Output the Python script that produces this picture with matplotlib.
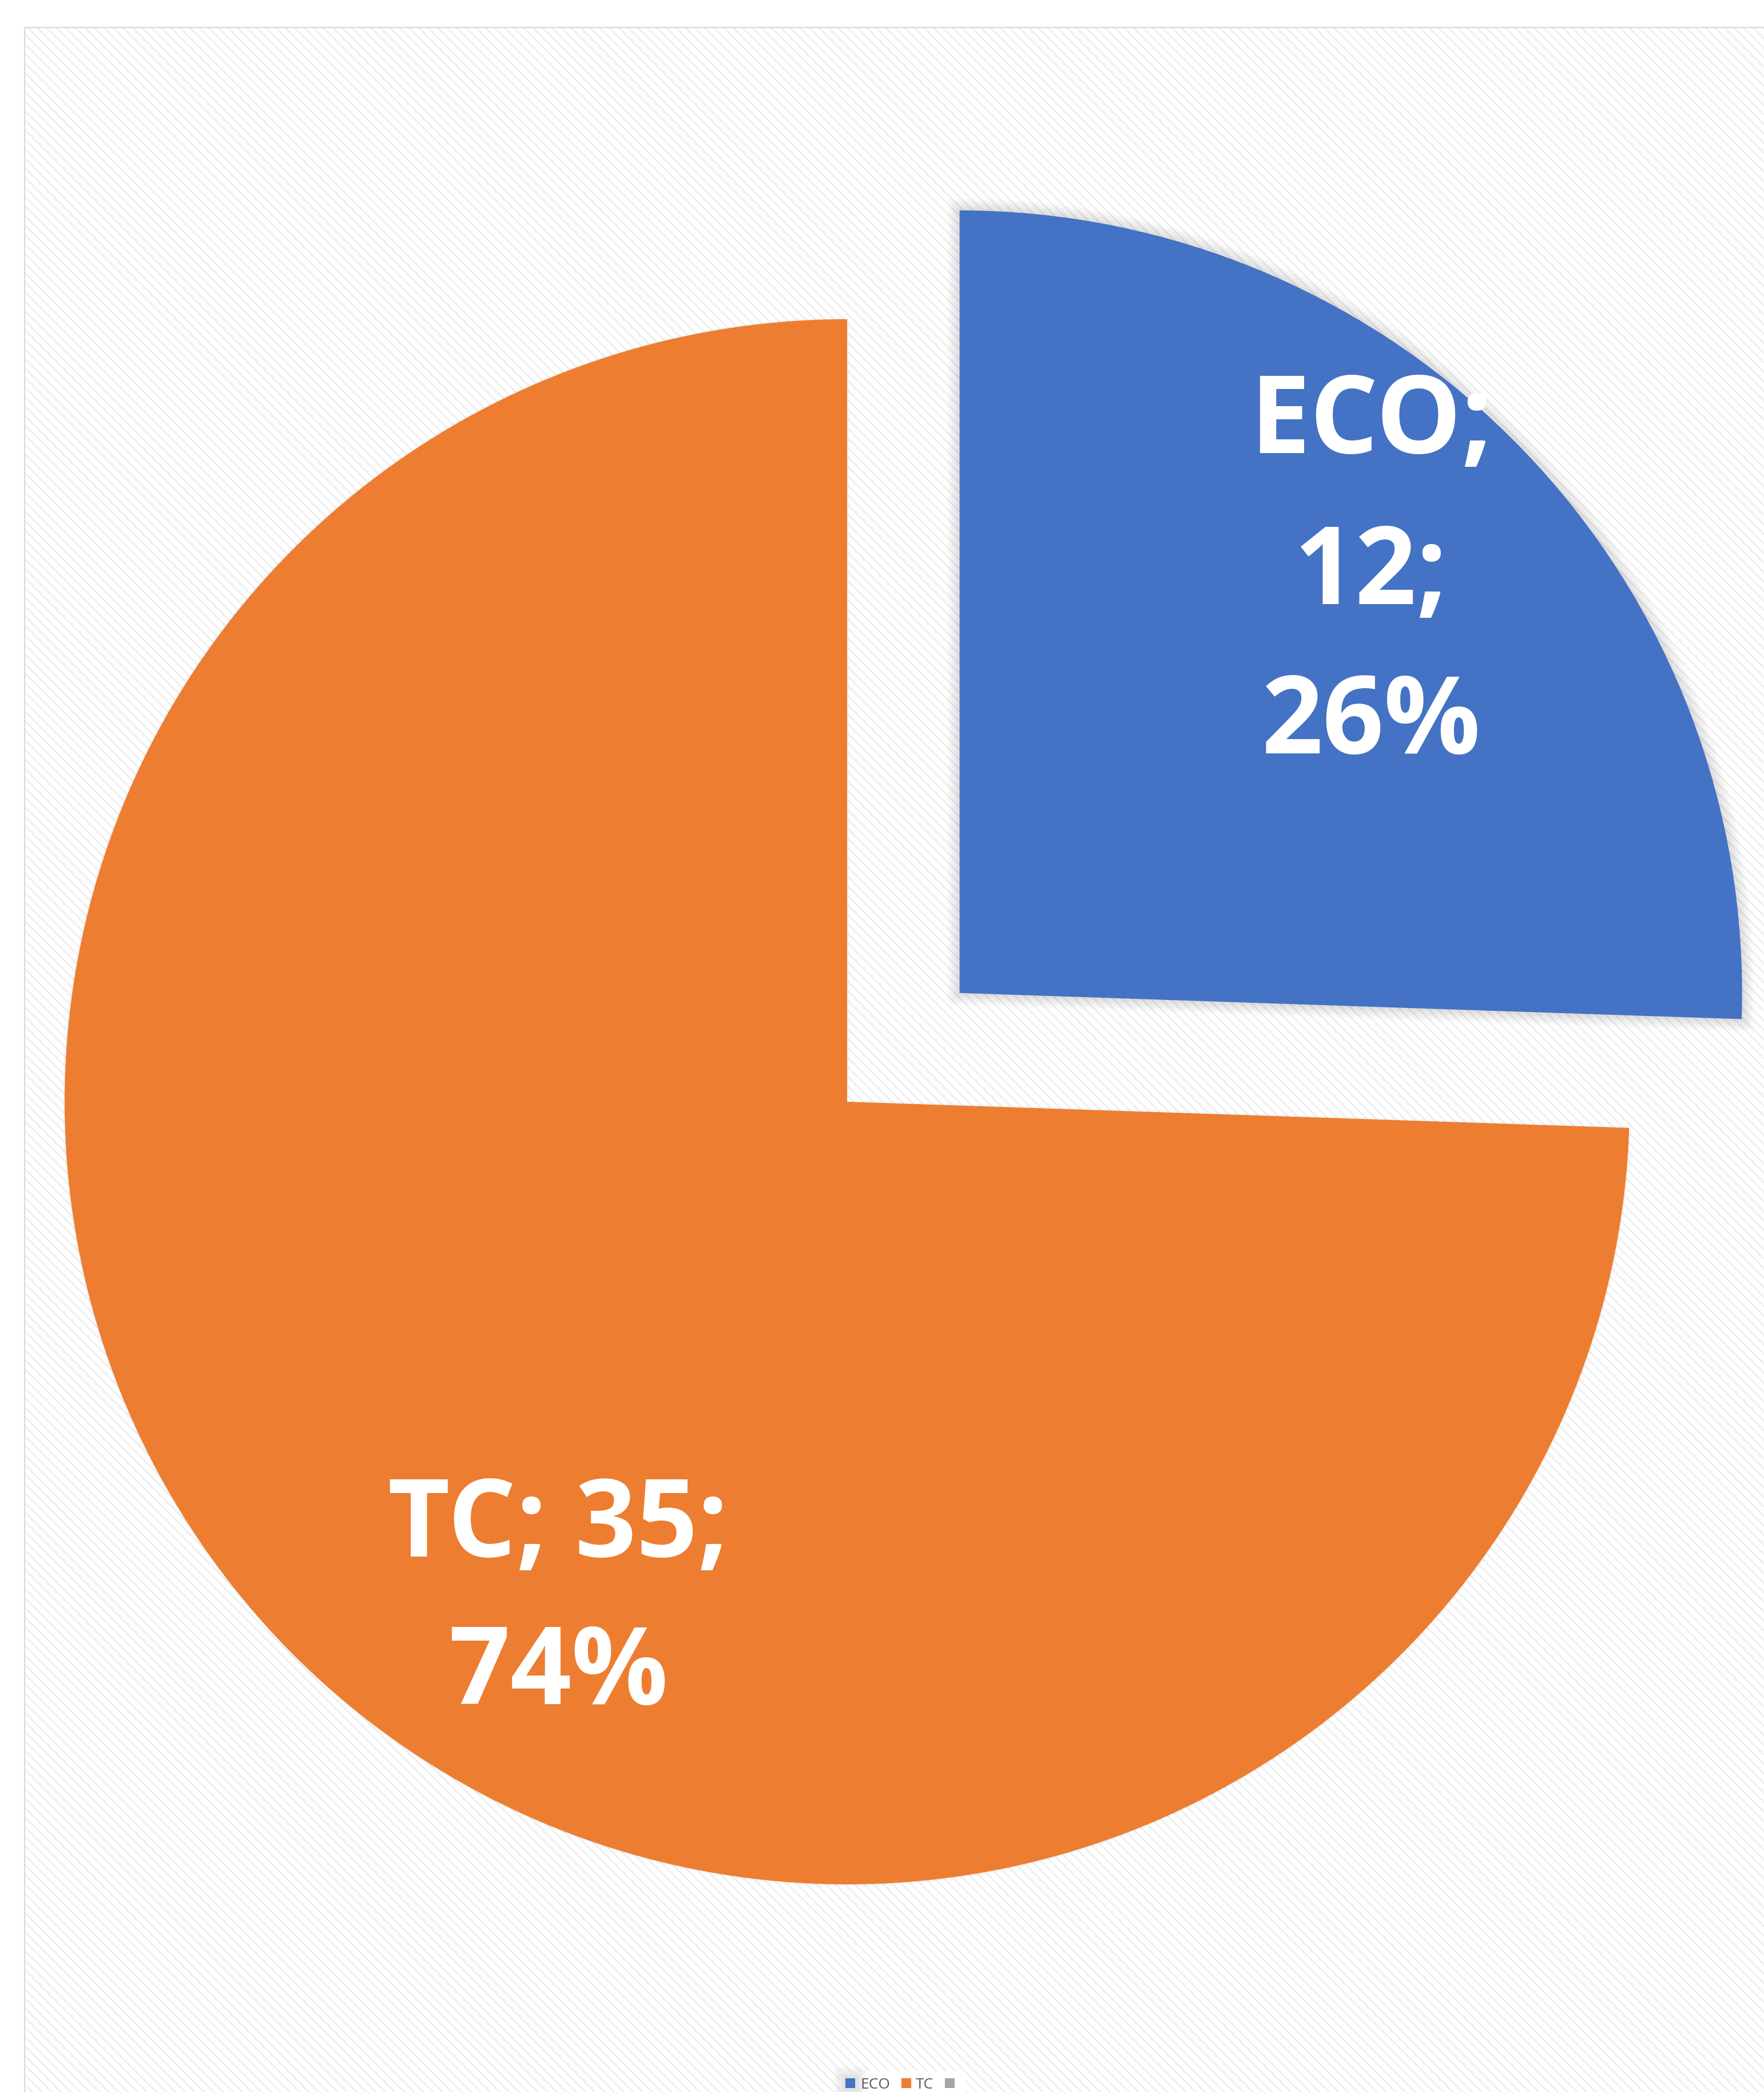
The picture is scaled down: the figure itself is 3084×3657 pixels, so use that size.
import matplotlib
matplotlib.use("Agg")
import matplotlib.pyplot as plt
from matplotlib.patches import Rectangle
import matplotlib.patheffects as pe

# ---- data ----
categories = ["ECO", "TC", ""]
values = [12, 35, 0]
colors = ["#4472C4", "#ED7D31", "#A5A5A5"]
explode = [0.2, 0.0, 0.0]

plt.rcParams["hatch.linewidth"] = 2.2
plt.rcParams["font.family"] = ["Open Sans", "DejaVu Sans"]

W, H, DPI = 3084, 3657, 100
fig = plt.figure(figsize=(W / DPI, H / DPI), dpi=DPI)
fig.patch.set_facecolor("white")

# chart area background (striped) and border
x0 = 43 / W
ytop = 1 - 48 / H
bg = Rectangle((x0, -0.02), 1.0, ytop + 0.02, transform=fig.transFigure,
               facecolor="white", edgecolor="#efefef", hatch="\\\\", linewidth=0,
               zorder=-3)
fig.patches.append(bg)
border = Rectangle((x0, -0.02), 1.0, ytop + 0.02, transform=fig.transFigure,
                   facecolor="none", edgecolor="#d9d9d9", linewidth=1.5, zorder=-2)
fig.patches.append(border)

# pie axes: center at pixel (1481, 1926), radius 1368 px
cx, cy, R = 1481, 1926, 1368
ax = fig.add_axes([0, 0, 1, 1])
ax.set_zorder(1)
ax.set_facecolor("none")
wedges, _ = ax.pie(values, colors=colors, startangle=90, counterclock=False,
                   explode=explode, radius=1, center=(0, 0),
                   wedgeprops=dict(linewidth=0))
ax.set_xlim(-cx / R, (W - cx) / R)
ax.set_ylim((cy - H) / R, cy / R)
ax.set_aspect("auto")
ax.axis("off")

# soft shadows
eco_fx = [pe.Stroke(linewidth=w, foreground="black", alpha=0.018)
          for w in (30, 25, 20, 15, 10, 6)]
wedges[0].set_path_effects(eco_fx + [pe.Normal()])
wedges[1].set_path_effects([
    pe.Stroke(linewidth=4, foreground="black", alpha=0.03),
    pe.Normal()])

# data labels
total = sum(values)
pcts = [round(v / total * 100) for v in values]
fs = 135
lab_eco = [f"{categories[0]};", f"{values[0]};", f"{pcts[0]}%"]
eco_x, eco_y = 0.670, [0.829, 0.636, 0.445]
for t, y in zip(lab_eco, eco_y):
    ax.text(eco_x, y, t, ha="center", va="baseline", color="white",
            fontsize=fs, fontweight="bold")
lab_tc = [f"{categories[1]}; {values[1]};", f"{pcts[1]}%"]
tc_x, tc_y = -0.369, [-0.581, -0.770]
for t, y in zip(lab_tc, tc_y):
    ax.text(tc_x, y, t, ha="center", va="baseline", color="white",
            fontsize=fs, fontweight="bold")

# legend
leg = fig.legend(wedges, categories, loc="upper center",
                 bbox_to_anchor=(1578 / W, 1 - 3608 / H),
                 bbox_transform=fig.transFigure, ncol=3, frameon=True,
                 fontsize=19, handlelength=0.65, handleheight=0.65,
                 handletextpad=0.32, columnspacing=0.75, borderpad=0.4,
                 fancybox=False, edgecolor="none", facecolor="white",
                 framealpha=1.0, labelcolor="#595959")
leg.set_zorder(5)

fig.savefig("out.png", dpi=DPI)
